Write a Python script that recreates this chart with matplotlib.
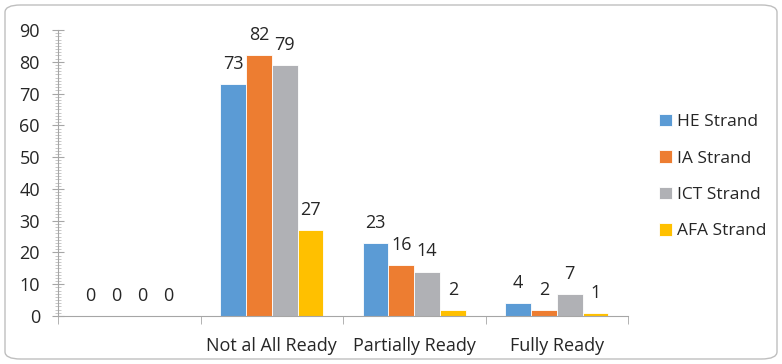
import numpy as np
import matplotlib
matplotlib.use("Agg")
import matplotlib.pyplot as plt
from matplotlib.patches import FancyBboxPatch
from matplotlib.ticker import MultipleLocator

categories = ["", "Not al All Ready", "Partially Ready", "Fully Ready"]
series = ["HE Strand", "IA Strand", "ICT Strand", "AFA Strand"]
he = [0, 73, 23, 4]
ia = [0, 82, 16, 2]
ict = [0, 79, 14, 7]
afa = [0, 27, 2, 1]
colors = ["#5B9BD5", "#ED7D31", "#B0B1B5", "#FFC000"]

plt.rcParams['font.family'] = ['Open Sans', 'DejaVu Sans']
txt = "#262626"

fig = plt.figure(figsize=(7.82, 3.64), dpi=100)
ax = fig.add_axes([58 / 782, 48 / 364, 570 / 782, 286 / 364])

# rounded outer frame like the Excel chart area
frame = FancyBboxPatch((5 / 782, 5 / 364), 772 / 782, 354 / 364,
                       boxstyle="round,pad=0,rounding_size=0.02",
                       transform=fig.transFigure, fill=False,
                       edgecolor="#BFBFBF", linewidth=1.0, zorder=0)
fig.patches.append(frame)

x = np.arange(len(categories))
w = 0.181
for i, (vals, name) in enumerate(zip([he, ia, ict, afa], series)):
    bars = ax.bar(x + (i - 1.5) * w, vals, w, color=colors[i], label=name,
                  edgecolor="white", linewidth=0.6)
    ax.bar_label(bars, padding=8, fontsize=13, color=txt)

ax.set_xlim(-0.5, 3.5)
ax.set_ylim(0, 90)
ax.yaxis.set_major_locator(MultipleLocator(10))
ax.yaxis.set_minor_locator(MultipleLocator(1))
ax.set_xticks(x)
ax.set_xticklabels(categories, fontsize=13, color=txt)
ax.set_xticks(np.arange(-0.5, 4, 0.5), minor=True)
ax.tick_params(axis="x", which="major", length=0, pad=15)
ax.tick_params(axis="x", which="minor", length=6, color="#A6A6A6", direction="out")
ax.tick_params(axis="y", which="major", length=8, color="#A6A6A6", direction="inout",
               labelsize=13, labelcolor=txt, pad=9)
ax.tick_params(axis="y", which="minor", length=5, color="#BFBFBF", direction="inout")

for s in ["top", "right"]:
    ax.spines[s].set_visible(False)
for s in ["left", "bottom"]:
    ax.spines[s].set_color("#A6A6A6")

handles, labels = ax.get_legend_handles_labels()
fig.legend(handles, labels, loc="center left", bbox_to_anchor=(0.823, 0.515),
           frameon=False, fontsize=12.5, labelspacing=1.15,
           handlelength=0.75, handleheight=0.75, handletextpad=0.3,
           labelcolor=txt)

fig.savefig("out.png", dpi=100)
